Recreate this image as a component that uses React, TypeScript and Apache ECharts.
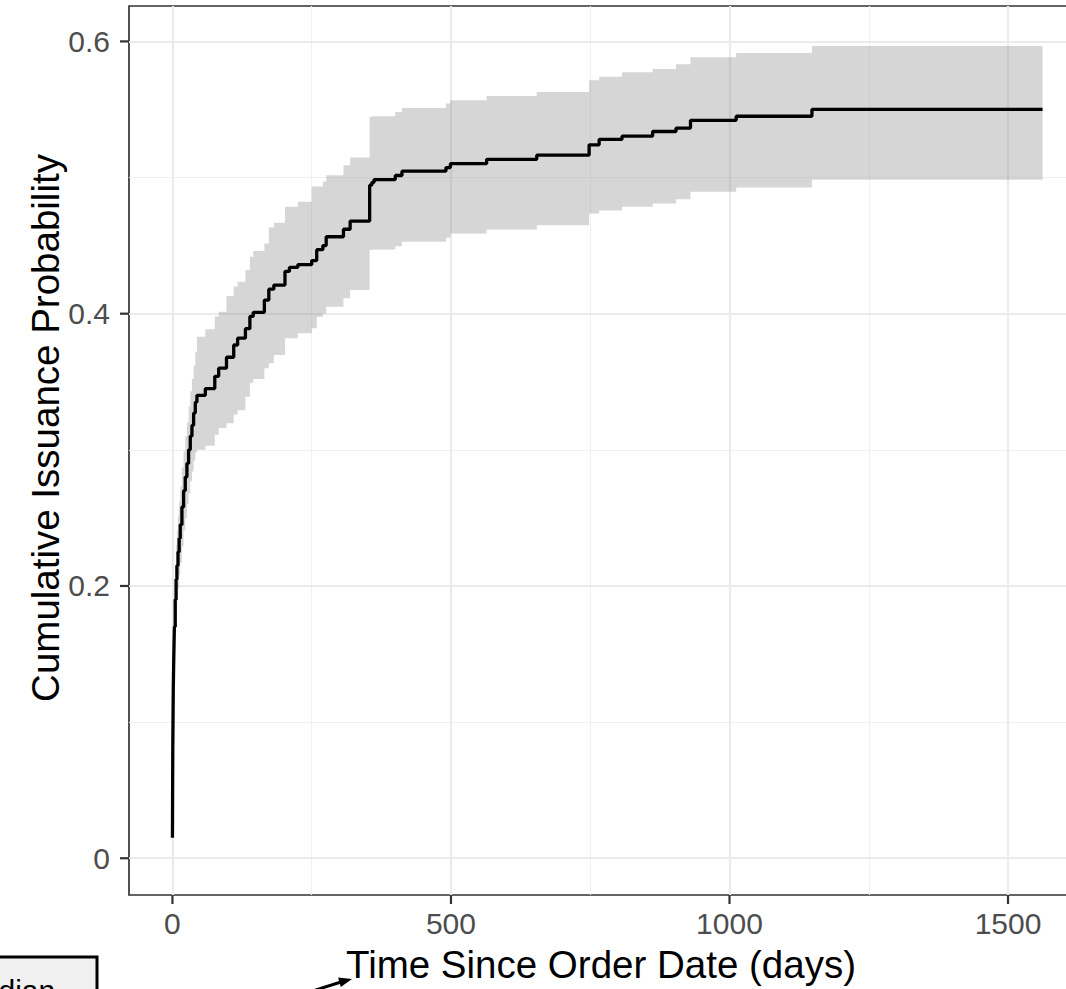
import React, { useEffect, useRef } from "react";
import * as echarts from "echarts";

// Kaplan-Meier style cumulative issuance estimate (step function)
const times = [0, 0.3, 0.6, 1, 1.5, 2.5, 3.5, 5, 6.5, 8, 10, 12, 14, 17, 20, 23, 26, 29, 32, 35, 38, 41, 44, 59, 76, 83, 97, 110, 117, 131, 139, 145, 165, 173, 182, 202, 210, 225, 250, 259, 270, 276, 307, 319, 354, 358, 362, 400, 412, 491, 499, 564, 654, 748, 766, 807, 862, 904, 930, 1012, 1148, 1562];
const estimate = [0.015, 0.05, 0.08, 0.10, 0.125, 0.15, 0.17, 0.19, 0.205, 0.215, 0.225, 0.235, 0.245, 0.258, 0.27, 0.28, 0.29, 0.30, 0.31, 0.318, 0.327, 0.335, 0.340, 0.345, 0.354, 0.360, 0.368, 0.377, 0.382, 0.389, 0.398, 0.401, 0.410, 0.418, 0.421, 0.431, 0.434, 0.436, 0.439, 0.447, 0.450, 0.4565, 0.462, 0.468, 0.4944, 0.4965, 0.4985, 0.5015, 0.5047, 0.5073, 0.5102, 0.5134, 0.5164, 0.524, 0.528, 0.5304, 0.5338, 0.5363, 0.542, 0.545, 0.55, 0.55];
const upperCI = [0.027, 0.062, 0.095, 0.118, 0.145, 0.172, 0.193, 0.214, 0.230, 0.241, 0.252, 0.262, 0.273, 0.287, 0.299, 0.310, 0.320, 0.332, 0.343, 0.352, 0.362, 0.372, 0.383, 0.3885, 0.398, 0.4015, 0.413, 0.420, 0.4235, 0.432, 0.4418, 0.446, 0.4516, 0.4633, 0.4667, 0.4785, 0.4785, 0.4822, 0.4935, 0.4935, 0.497, 0.5017, 0.509, 0.5147, 0.5445, 0.545, 0.545, 0.5482, 0.5511, 0.5543, 0.5567, 0.5599, 0.5628, 0.5714, 0.574, 0.5773, 0.5798, 0.5832, 0.5884, 0.5914, 0.5966, 0.5966];
const lowerCI = [0.003, 0.038, 0.065, 0.082, 0.105, 0.128, 0.147, 0.166, 0.180, 0.189, 0.198, 0.208, 0.217, 0.229, 0.241, 0.25, 0.26, 0.268, 0.277, 0.284, 0.292, 0.298, 0.300, 0.303, 0.311, 0.316, 0.3196, 0.326, 0.329, 0.339, 0.349, 0.352, 0.360, 0.3636, 0.3697, 0.3819, 0.382, 0.3856, 0.3893, 0.3978, 0.400, 0.4051, 0.4113, 0.4174, 0.4467, 0.447, 0.4472, 0.4496, 0.4528, 0.4557, 0.4589, 0.4619, 0.465, 0.4736, 0.4758, 0.4785, 0.481, 0.484, 0.4896, 0.4926, 0.4983, 0.4983];

const yTicks = [0, 0.2, 0.4, 0.6];
const yMinorTicks = [0.1, 0.3, 0.5];
const xTicks = [0, 500, 1000, 1500];
const xMinorTicks = [250, 750, 1250];

const xTitle = "Time Since Order Date (days)";
const yTitle = "Cumulative Issuance Probability";
const boxLabel = "Median";

const FONT = "'Liberation Sans', Arial, Helvetica, sans-serif";
const X_MIN = -78;
const X_MAX = 1640;
const Y_MIN = -0.027;
const Y_MAX = 0.626;

export default function App() {
  const ref = useRef<HTMLDivElement>(null);

  useEffect(() => {
    const chart = echarts.init(ref.current!, null, { renderer: "svg" });

    const estData = times.map((t, i) => [t, estimate[i]]);
    const ribbonData = times.map((t, i) => [t, lowerCI[i], upperCI[i]]);
    const xTickData = xTicks.map((v) => [v, Y_MIN]);
    const yTickData = yTicks.map((v) => [X_MIN, v]);

    const major = { color: "#ebebeb", width: 2.2, type: "solid" };
    const minor = { color: "#f0f0f0", width: 1.1, type: "solid" };
    const gridLines = [
      ...yMinorTicks.map((v) => ({ yAxis: v, lineStyle: minor })),
      ...xMinorTicks.map((v) => ({ xAxis: v, lineStyle: minor })),
      ...yTicks.map((v) => ({ yAxis: v, lineStyle: major })),
      ...xTicks.map((v) => ({ xAxis: v, lineStyle: major })),
    ];

    const labelStyle = { color: "#4d4d4d", fontSize: 30, fontFamily: FONT };
    const tickLen = 9;
    const tickStyle = { stroke: "#333333", lineWidth: 2.2 };

    chart.setOption({
      animation: false,
      backgroundColor: "#ffffff",
      grid: {
        left: 129,
        top: 6,
        right: 4,
        bottom: 94,
        show: true,
        borderColor: "#333333",
        borderWidth: 1.7,
        backgroundColor: "transparent",
      },
      xAxis: {
        type: "value",
        min: X_MIN,
        max: X_MAX,
        axisLine: { show: false },
        splitLine: { show: false },
        axisTick: { show: false },
        axisLabel: {
          ...labelStyle,
          margin: 13,
          customValues: xTicks,
          formatter: (v: number) => String(v),
        },
      },
      yAxis: {
        type: "value",
        min: Y_MIN,
        max: Y_MAX,
        axisLine: { show: false },
        splitLine: { show: false },
        axisTick: { show: false },
        axisLabel: {
          ...labelStyle,
          margin: 19,
          customValues: yTicks,
          formatter: (v: number) => String(v),
        },
      },
      series: [
        {
          name: "ribbon",
          type: "custom",
          data: ribbonData,
          clip: true,
          silent: true,
          z: 2,
          encode: { x: 0, y: [1, 2] },
          renderItem: (params: any, api: any) => {
            if (params.dataIndex !== 0) return null;
            const n = times.length;
            const top: number[][] = [];
            const bottom: number[][] = [];
            for (let i = 0; i < n; i++) {
              const x0 = times[i];
              const x1 = i < n - 1 ? times[i + 1] : times[i];
              top.push(api.coord([x0, upperCI[i]]));
              top.push(api.coord([x1, upperCI[i]]));
              bottom.push(api.coord([x0, lowerCI[i]]));
              bottom.push(api.coord([x1, lowerCI[i]]));
            }
            const points = top.concat(bottom.reverse());
            return {
              type: "polygon",
              shape: { points },
              style: { fill: "rgba(127,127,127,0.32)" },
            };
          },
          markLine: {
            silent: true,
            symbol: ["none", "none"],
            label: { show: false },
            animation: false,
            z: 1,
            data: gridLines,
          },
        },
        {
          name: "estimate",
          type: "line",
          step: "end",
          data: estData,
          showSymbol: false,
          symbol: "none",
          lineStyle: { color: "#000000", width: 3.3 },
          silent: true,
          z: 3,
        },
        {
          name: "xTicks",
          type: "custom",
          data: xTickData,
          clip: false,
          silent: true,
          z: 4,
          renderItem: (params: any, api: any) => {
            const p = api.coord([api.value(0), api.value(1)]);
            return {
              type: "line",
              shape: { x1: p[0], y1: p[1], x2: p[0], y2: p[1] + tickLen },
              style: tickStyle,
            };
          },
        },
        {
          name: "yTicks",
          type: "custom",
          data: yTickData,
          clip: false,
          silent: true,
          z: 4,
          renderItem: (params: any, api: any) => {
            const p = api.coord([api.value(0), api.value(1)]);
            return {
              type: "line",
              shape: { x1: p[0] - tickLen, y1: p[1], x2: p[0], y2: p[1] },
              style: tickStyle,
            };
          },
        },
      ],
      graphic: [
        {
          type: "text",
          x: 45,
          y: 428,
          rotation: Math.PI / 2,
          style: {
            text: yTitle,
            fontSize: 38.5,
            fontFamily: FONT,
            fill: "#000000",
            align: "center",
            verticalAlign: "middle",
          },
        },
        {
          type: "text",
          x: 601,
          y: 964,
          style: {
            text: xTitle,
            fontSize: 38.5,
            fontFamily: FONT,
            fill: "#000000",
            align: "center",
            verticalAlign: "middle",
          },
        },
        {
          type: "rect",
          shape: { x: -85, y: 957, width: 182, height: 80 },
          style: { fill: "#f0f0f0", stroke: "#000000", lineWidth: 3 },
        },
        {
          type: "text",
          x: 6,
          y: 990,
          style: {
            text: boxLabel,
            fontSize: 30,
            fontFamily: FONT,
            fill: "#000000",
            align: "center",
            verticalAlign: "middle",
          },
        },
        {
          type: "line",
          shape: { x1: 300, y1: 995, x2: 341, y2: 982 },
          style: { stroke: "#000000", lineWidth: 3 },
        },
        {
          type: "polygon",
          shape: { points: [[352, 979], [340.8, 987], [338.1, 977.4]] },
          style: { fill: "#000000" },
        },
      ],
    });

    return () => chart.dispose();
  }, []);

  return (
    <div
      style={{
        position: "fixed",
        left: 0,
        top: 0,
        width: 1066,
        height: 989,
        overflow: "hidden",
        background: "#ffffff",
      }}
    >
      <div ref={ref} style={{ width: 1090, height: 989 }} />
    </div>
  );
}
